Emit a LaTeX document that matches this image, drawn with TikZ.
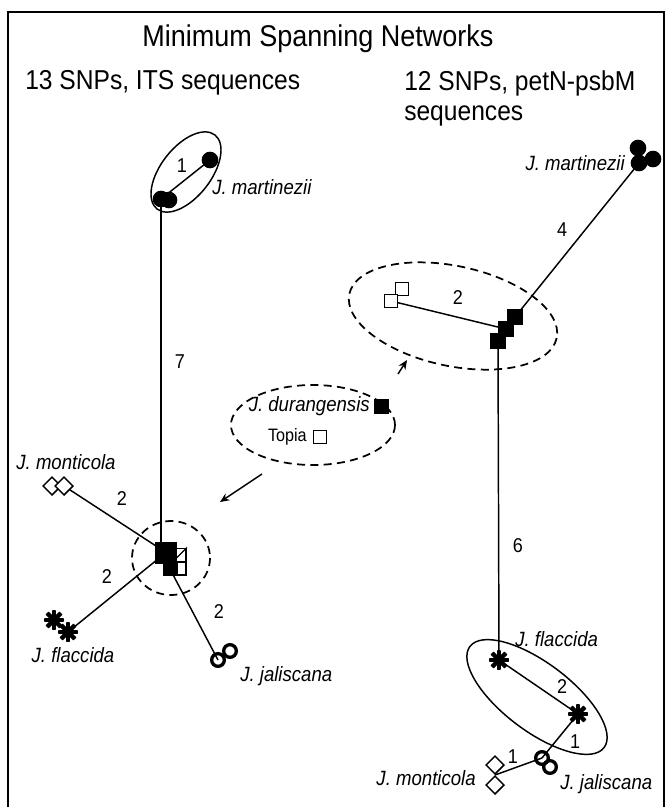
\documentclass[tikz,border=0pt]{standalone}
\usepackage{fontspec}
\setmainfont{Liberation Sans}[FakeStretch=0.9]
\usetikzlibrary{backgrounds,calc,arrows.meta}
\tikzset{
 edge/.style={line width=1.1pt},
 grp/.style={line width=1.1pt},
 dgrp/.style={line width=1.3pt, dash pattern=on 6pt off 4pt},
 fdot/.style={circle, fill=black, inner sep=0pt, minimum size=12.5pt},
 odot/.style={circle, draw=black, line width=2.5pt, inner sep=0pt, minimum size=9.5pt},
 bsq/.style={rectangle, fill=black, draw=black, inner sep=0pt, minimum size=11pt},
 osq/.style={rectangle, draw=black, fill=white, line width=1.1pt, inner sep=0pt, minimum size=10pt},
 dia/.style={rectangle, draw=black, fill=white, line width=1.1pt, rotate=45, inner sep=0pt, minimum size=9.5pt},
 ast/.style={circle, inner sep=0pt, minimum size=15pt, path picture={\foreach \a in {0,45,90,135}{\draw[line width=3.2pt] ($(path picture bounding box.center)+(\a:8pt)$) -- ($(path picture bounding box.center)+(\a+180:8pt)$);}}},
 lab/.style={font=\itshape\fontsize{15.5}{18}\selectfont, inner sep=0pt},
 num/.style={font=\fontsize{15}{17}\selectfont, inner sep=0pt},
 ttl/.style={font=\fontsize{22.5}{26}\selectfont, inner sep=0pt},
 sub/.style={font=\fontsize{20.5}{22.5}\selectfont, inner sep=0pt, align=left},
 arr/.style={line width=1.1pt, -{Stealth[length=7pt,width=6pt]}},
}
\begin{document}
\begin{tikzpicture}[x=0.75pt,y=-0.75pt]
\useasboundingbox (0,0) rectangle (666,807);
\draw[line width=1.3pt] (8,807) -- (8,12) -- (664,12) -- (664,807);

% titles
\node[ttl] (title) at (318,39) {Minimum Spanning Networks};
\node[sub, anchor=west] (stl) at (25,83) {13 SNPs, ITS sequences};
\node[sub, anchor=north west] (str) at (404,70) {12 SNPs, petN-psbM\\sequences};

% ---------------- left network ----------------
\draw[grp, rotate around={52:(186,172)}] (186,172) ellipse [x radius=47, y radius=25];
\node[fdot] (lm1) at (210,160) {};
\node[fdot] (lm2a) at (161,199) {};
\node[fdot] (lm2b) at (169,200) {};
\node[num] (n1) at (182,166) {1};
\node[lab, anchor=west] (lml) at (212,187) {J. martinezii};

\node[osq] (lc3) at (179.5,555) {};
\draw[line width=1pt] (lc3.north east) -- (lc3.south west);
\node[osq] (lc4) at (179.5,568.5) {};
\node[bsq, minimum size=16pt] (lc1) at (166,552.5) {};
\node[bsq, minimum width=10.5pt, minimum height=9pt] (lc2) at (170,569) {};
\draw[dgrp] (171,558) ellipse [x radius=39, y radius=37];

\node[dia] (ld1) at (52,486) {};
\node[dia] (ld2) at (64,486) {};
\node[lab] (ldl) at (66,462) {J. monticola};

\node[ast] (lf1) at (54,620) {};
\node[ast] (lf2) at (68,632) {};
\node[lab] (lfl) at (73,655) {J. flaccida};

\node[odot] (lj1) at (218,660) {};
\node[odot] (lj2) at (230,651) {};
\node[lab, anchor=west] (ljl) at (240,676) {J. jaliscana};

\node[num] (n7) at (180,362) {7};
\node[num] (n2a) at (122,499) {2};
\node[num] (n2b) at (107,577) {2};
\node[num] (n2c) at (219,612) {2};

\begin{pgfonlayer}{background}
\draw[edge] (lm2a.center) -- (lm1.center);
\draw[edge] (lm2a.center) -- (lm2a.center |- lc1.center);
\draw[edge] (ld2.center) -- (lc1.center);
\draw[edge] (lf2.center) -- (lc1.center);
\draw[edge] (lc2.center) -- (lj1.center);
\end{pgfonlayer}

% ---------------- legend ----------------
\draw[dgrp] (313,425) ellipse [x radius=82, y radius=40];
\node[lab, anchor=east] (dur) at (370,406) {J. durangensis};
\node[bsq, minimum size=10.5pt] (durs) at (381,406) {};
\node[font=\fontsize{13.5}{15}\selectfont, inner sep=0pt, anchor=east] (top) at (307,437) {Topia};
\node[osq, minimum size=9.5pt] (tops) at (320,437) {};
\coordinate (a1s) at (262,474);
\coordinate (a1e) at (220,502);
\coordinate (a2s) at (398,374);
\coordinate (a2e) at (407,360);
\draw[arr] (a1s) -- (a1e);
\draw[arr] (a2s) -- (a2e);

% ---------------- right network ----------------
\node[fdot] (rm1) at (638,148) {};
\node[fdot] (rm2) at (639,163) {};
\node[fdot] (rm3) at (653,159) {};
\node[lab, anchor=east] (rml) at (625,163) {J. martinezii};

\node[bsq] (rb1) at (515,317) {};
\node[bsq] (rb2) at (506,329) {};
\node[bsq] (rb3) at (498,341) {};
\node[osq] (ro2) at (402,289) {};
\node[osq] (ro1) at (391,301) {};
\draw[dgrp, rotate around={-12:(453,316)}] (453,316) ellipse [x radius=106, y radius=50];

\node[ast] (rf1) at (499,660) {};
\node[ast] (rf2) at (578,714) {};
\draw[grp, rotate around={-37:(537,697)}] (537,697) ellipse [x radius=84, y radius=34];
\node[lab, anchor=west] (rfl) at (515,639) {J. flaccida};

\node[odot] (rj1) at (542,758) {};
\node[odot] (rj2) at (550,767) {};
\node[lab, anchor=west] (rjl) at (560,784) {J. jaliscana};

\node[dia] (rd1) at (495,765) {};
\node[dia] (rd2) at (495,785) {};
\coordinate (rdj) at (495,775);
\node[lab, anchor=east] (rdl) at (476,778) {J. monticola};

\node[num] (n4) at (562,230) {4};
\node[num] (n2d) at (458,298) {2};
\node[num] (n6) at (518,546) {6};
\node[num] (n2e) at (562,687) {2};
\node[num] (n1b) at (575,742) {1};
\node[num] (n1c) at (513,757) {1};

\begin{pgfonlayer}{background}
\draw[edge] (rm2.center) -- (rb1.center);
\draw[edge] (ro1.center) -- (rb2.center);
\draw[edge] (rb3.center) -- (rf1.center);
\draw[edge] (rf1.center) -- (rf2.center);
\draw[edge] (rf2.center) -- (rj1.center);
\draw[edge] (rdj) -- (rj1.center);
\end{pgfonlayer}
\end{tikzpicture}
\end{document}
